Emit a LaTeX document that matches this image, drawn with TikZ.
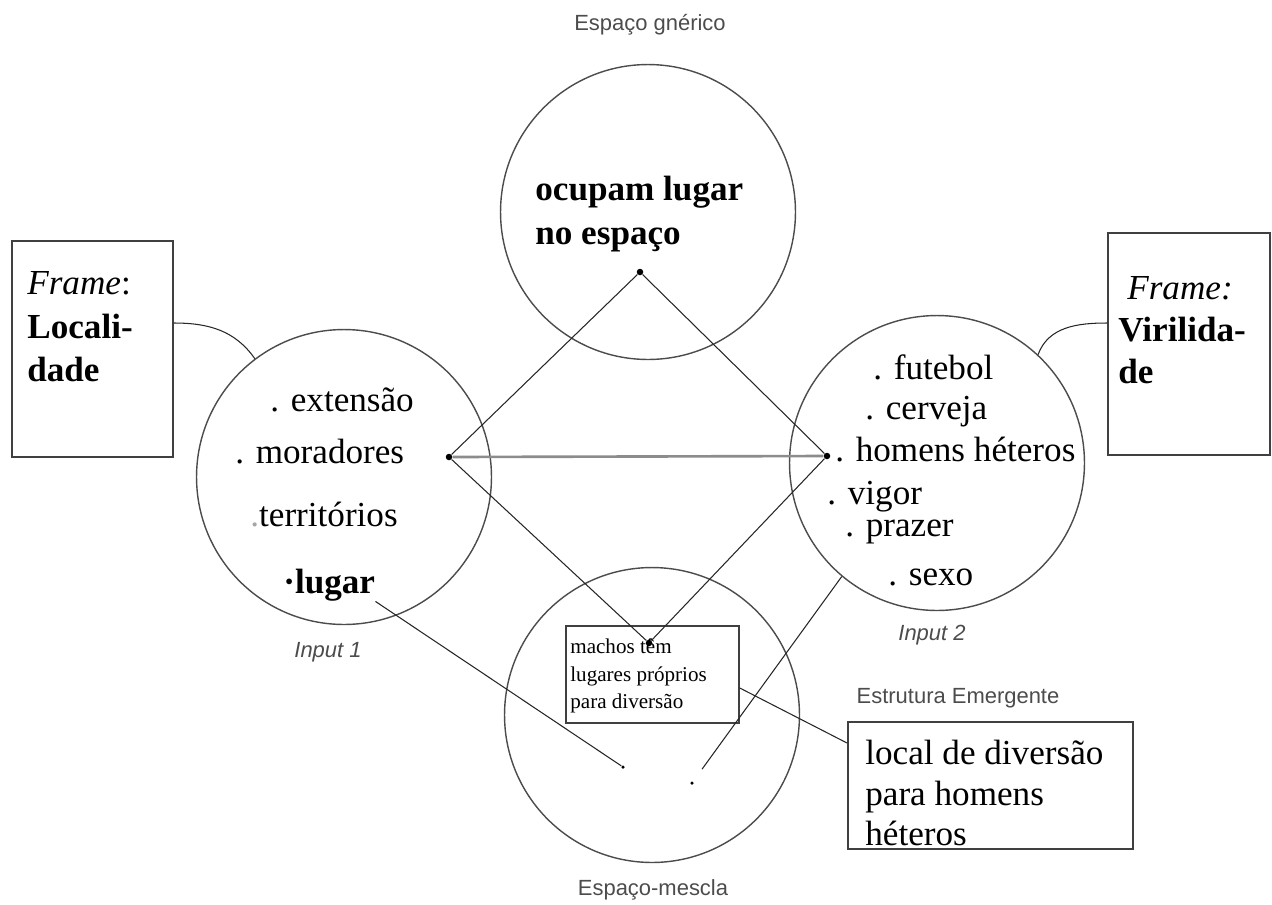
\documentclass[tikz,border=0pt]{standalone}
\usepackage{fontspec}
\setmainfont{Liberation Serif}
\newfontfamily\labelfont{Liberation Sans}
\usetikzlibrary{shapes}

\begin{document}
\begin{tikzpicture}[x=0.02cm,y=-0.02cm]
            \tikzstyle{space}=[draw=black!70,line width=0.8pt,circle,minimum size=5.9cm,inner sep=0]
            \tikzstyle{frame box}=[draw=black!75,line width=1.1pt,rectangle,inner sep=0]
            \tikzstyle{dot}=[circle,fill,inner sep=0,minimum size=0.13cm]
            \tikzstyle{small dot}=[circle,fill,inner sep=0,minimum size=0.07cm]
            \tikzstyle{item}=[anchor=west,inner sep=0,font=\fontsize{20}{24}\selectfont]
            \tikzstyle{tag}=[inner sep=0,text=black!70,font=\labelfont\fontsize{12.5}{15}\selectfont]
            \useasboundingbox (0,0) rectangle (1272,904);

            % the four spaces
            \node[space] (GS) at (648,212) {};
            \node[space] (IN1) at (344,477) {};
            \node[space] (IN2) at (937,463) {};
            \node[space] (BL) at (652,715) {};

            \node[tag] (GST) at (650,25) {Espaço gnérico};
            \node[tag] (IN1T) at (328,652) {\itshape Input 1};
            \node[tag] (IN2T) at (932,635) {\itshape Input 2};
            \node[tag] (EMT) at (958,698) {Estrutura Emergente};
            \node[tag] (BLT) at (653,890) {Espaço-mescla};

            % generic space
            \node[item,align=left,font=\bfseries\fontsize{20}{25.5}\selectfont] (GTX) at (535,214) {ocupam lugar\\no espaço};

            % input 1
            \node[item] (EX) at (270,400) {. extensão};
            \node[item] (MO) at (235,452) {. moradores};
            \node[item] (TE) at (250,515) {\textcolor{black!35}{.}territórios};
            \node[item,font=\bfseries\fontsize{20}{24}\selectfont] (LG) at (283,585) {·lugar};

            % input 2
            \node[item] (FU) at (873,367) {. futebol};
            \node[item] (CE) at (865,412) {. cerveja};
            \node[item] (HH) at (835,450) {. homens héteros};
            \node[item] (VI) at (827,497) {. vigor};
            \node[item] (PR) at (845,532) {. prazer};
            \node[item] (SE) at (888,577) {. sexo};

            % frames
            \node[frame box,minimum width=3.22cm,minimum height=4.32cm] (LF) at (92.5,349) {};
            \node[item,align=left,font=\fontsize{20}{24.7}\selectfont] (LFT) at (27,327) {\textit{Frame}:\\\textbf{Locali-}\\\textbf{dade}};
            \node[frame box,minimum width=3.24cm,minimum height=4.44cm] (RF) at (1189,344) {};
            \node[item,align=left,font=\fontsize{20}{23.8}\selectfont] (RFT) at (1118,330) {\hspace*{0.18cm}\textit{Frame:}\\\textbf{Virilida-}\\\textbf{de}};

            % blend
            \node[frame box,line width=0.9pt,minimum width=3.46cm,minimum height=1.94cm] (MB) at (652.5,674.5) {};
            \node[item,align=left,font=\fontsize{12}{15.6}\selectfont] (MBT) at (570,676) {machos têm\\lugares próprios\\para diversão};
            \node[frame box,minimum width=5.7cm,minimum height=2.54cm] (EM) at (990.5,785.5) {};
            \node[item,align=left,font=\fontsize{20}{23}\selectfont] (EMX) at (865,793) {local de diversão\\para homens\\héteros};

            \node[dot] (GD) at (640,272) {};
            \node[dot] (MD) at (449,457) {};
            \node[dot] (HD) at (827,456) {};
            \node[dot] (BD) at (649,643) {};
            \node[small dot] (B1) at (623,767) {};
            \node[small dot] (B2) at (692,783) {};

            \draw[black!45,line width=1.5pt] (MD) -- (HD);
            \draw[black!85,line width=0.6pt]
                (GD) -- (MD)
                (GD) -- (HD)
                (MD) -- (BD)
                (HD) -- (BD)
                ([yshift=0.52cm]LF.east) to[out=0,in=125] (IN1.127)
                ([yshift=0.42cm]RF.west) to[out=180,in=70] (IN2.47)
                ([yshift=-0.27cm]MB.east) -- ([yshift=0.85cm]EM.west);
            \draw[black!85,line width=0.6pt,shorten >=0.3cm]
                (LG.south east) -- (B1)
                (IN2.230) -- (B2);
        \end{tikzpicture}
\end{document}
